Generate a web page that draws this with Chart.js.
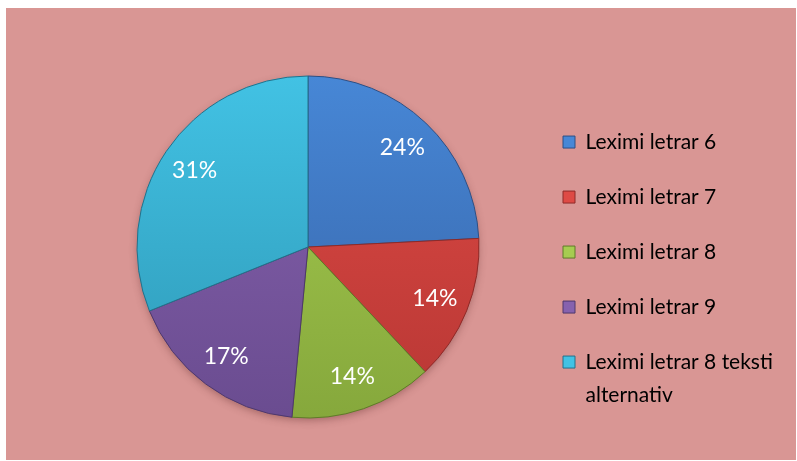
<!DOCTYPE html>
<html>
<head>
<meta charset="utf-8">
<script src="https://cdn.jsdelivr.net/npm/chart.js@4.4.1/dist/chart.umd.min.js"></script>
<style>
  body { margin: 0; background: #fff; }
  #wrap { position: absolute; left: 6px; top: 8px; width: 790px; height: 452px; background: #D99694; }
</style>
</head>
<body>
<div id="wrap"><canvas id="chart1"></canvas></div>
<script>
const labels = ['Leximi letrar 6', 'Leximi letrar 7', 'Leximi letrar 8', 'Leximi letrar 9', ['Leximi letrar 8 teksti', 'alternativ']];
const values = [24.2, 13.8, 13.5, 17.4, 31.1];
const colorsTop = ['#4787D6', '#DE4A45', '#A6CC50', '#8662AE', '#42C2E4'];
const colorsBottom = ['#3663A6', '#B83734', '#86A83C', '#6A4C90', '#2E98B6'];
const borders = ['#2C4F85', '#8E2A28', '#5F7A28', '#4E386C', '#22718A'];

const fontFamily = 'Lato, "Noto Sans", sans-serif';
const legendFont = 21;
const legendPad = 34;
const boxW = 12;

// measure widest legend line so the legend lands where it should
const mctx = document.createElement('canvas').getContext('2d');
mctx.font = legendFont + 'px ' + fontFamily;
const widest = Math.max(...labels.flat().map(t => mctx.measureText(t).width));
const legendLeft = 557 - legendPad;
const padLeft = 2 * 302 - legendLeft;
const padRight = Math.max(0, 790 - (legendLeft + legendPad + boxW + legendFont / 2 + widest + 10));

const pieShadow = {
  id: 'pieShadow',
  beforeDatasetsDraw(chart) {
    const arc = chart.getDatasetMeta(0).data[0];
    if (!arc) return;
    const ctx = chart.ctx;
    ctx.save();
    ctx.shadowColor = 'rgba(90,40,40,0.45)';
    ctx.shadowBlur = 8;
    ctx.shadowOffsetY = 3;
    ctx.beginPath();
    ctx.arc(arc.x, arc.y, arc.outerRadius - 1, 0, Math.PI * 2);
    ctx.fillStyle = '#888';
    ctx.fill();
    ctx.restore();
  }
};

const pctLabels = {
  id: 'pctLabels',
  afterDatasetsDraw(chart) {
    const ctx = chart.ctx;
    const total = values.reduce((a, b) => a + b, 0);
    ctx.save();
    ctx.fillStyle = '#fff';
    ctx.font = '23px ' + fontFamily;
    ctx.textAlign = 'center';
    ctx.textBaseline = 'middle';
    chart.getDatasetMeta(0).data.forEach((arc, i) => {
      const mid = (arc.startAngle + arc.endAngle) / 2;
      const r = arc.outerRadius * 0.8;
      ctx.fillText(Math.round(values[i] / total * 100) + '%', arc.x + Math.cos(mid) * r, arc.y + Math.sin(mid) * r);
    });
    ctx.restore();
  }
};

function grad(ctx, i) {
  const area = ctx.chart.chartArea;
  if (!area) return colorsTop[i];
  const g = ctx.chart.ctx.createLinearGradient(0, 238 - 171, 0, 238 + 171);
  g.addColorStop(0, colorsTop[i]);
  g.addColorStop(1, colorsBottom[i]);
  return g;
}

const chart1 = new Chart(document.getElementById('chart1').getContext('2d'), {
  type: 'pie',
  data: {
    labels: labels,
    datasets: [{
      data: values,
      backgroundColor: ctx => grad(ctx, ctx.dataIndex),
      borderColor: borders,
      borderWidth: 1
    }]
  },
  options: {
    responsive: true,
    maintainAspectRatio: false,
    animation: false,
    radius: 171,
    layout: { padding: { left: padLeft, right: padRight, top: 34.5, bottom: 8.5 } },
    plugins: {
      tooltip: { enabled: false },
      legend: {
        position: 'right',
        align: 'end',
        labels: {
          boxWidth: boxW,
          boxHeight: 12,
          padding: legendPad,
          color: '#000',
          font: { family: fontFamily, size: legendFont, lineHeight: 1.57 },
          generateLabels(chart) {
            return labels.map((t, i) => ({
              text: t,
              fillStyle: colorsTop[i],
              strokeStyle: borders[i],
              lineWidth: 1,
              index: i
            }));
          }
        }
      }
    }
  },
  plugins: [pieShadow, pctLabels]
});
</script>
</body>
</html>
